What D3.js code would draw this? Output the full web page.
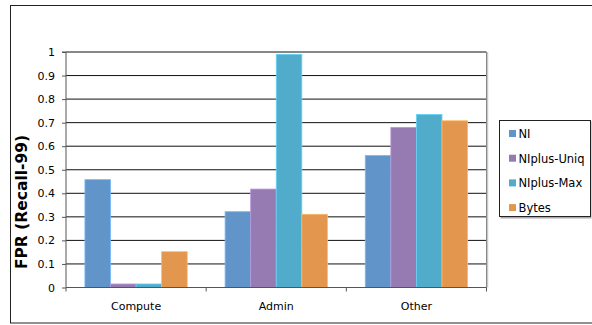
<!DOCTYPE html>
<html>
<head>
<meta charset="utf-8">
<script src="https://cdn.jsdelivr.net/npm/d3@7"></script>
<style>
  html, body { margin: 0; padding: 0; background: #fff; }
  svg { display: block; font-family: "DejaVu Sans", Verdana, sans-serif; }
</style>
</head>
<body>
<svg id="chart" width="592" height="325"></svg>
<script>
// Workload categories and the FPR (at 99% recall) for each detector
const categories = ["Compute", "Admin", "Other"];
const seriesNames = ["NI", "NIplus-Uniq", "NIplus-Max", "Bytes"];
const seriesColors = ["#6195c9", "#957bb2", "#51abcb", "#e2964e"];
const valuesNI = [0.458, 0.322, 0.561];
const valuesUniq = [0.015, 0.418, 0.680];
const valuesMax = [0.015, 0.990, 0.735];
const valuesBytes = [0.152, 0.311, 0.708];
const yTicks = [0, 0.1, 0.2, 0.3, 0.4, 0.5, 0.6, 0.7, 0.8, 0.9, 1];
const yTickLabels = ["0", "0.1", "0.2", "0.3", "0.4", "0.5", "0.6", "0.7", "0.8", "0.9", "1"];
const yTitle = "FPR (Recall-99)";

const seriesValues = [valuesNI, valuesUniq, valuesMax, valuesBytes];
const rows = categories.map((c, i) => ({
  category: c,
  values: seriesNames.map((s, j) => ({ series: s, value: seriesValues[j][i], color: seriesColors[j] }))
}));

const svg = d3.select("#chart");
const plot = { left: 66, right: 486.5, top: 52, bottom: 287.5 };

// Outer chart frame
svg.append("rect")
  .attr("x", 10.5).attr("y", 5.5)
  .attr("width", 600).attr("height", 317.5)
  .attr("fill", "#fff").attr("stroke", "#222").attr("stroke-width", 1);

const x0 = d3.scaleBand()
  .domain(categories)
  .range([plot.left, plot.right])
  .paddingInner(0.27)
  .paddingOuter(0.135);

const x1 = d3.scaleBand()
  .domain(seriesNames)
  .range([0, x0.bandwidth()]);

const y = d3.scaleLinear().domain([0, 1]).range([plot.bottom, plot.top]);

// Horizontal gridlines
svg.append("g")
  .selectAll("line")
  .data(yTicks.slice(1))
  .join("line")
  .attr("x1", plot.left).attr("x2", plot.right)
  .attr("y1", d => y(d)).attr("y2", d => y(d))
  .attr("stroke", "#111").attr("stroke-width", 1);

// Plot area right edge (with soft shadow)
svg.append("line")
  .attr("x1", plot.right + 1).attr("x2", plot.right + 1)
  .attr("y1", plot.top).attr("y2", plot.bottom)
  .attr("stroke", "#c8c8c8").attr("stroke-width", 1.5);
svg.append("line")
  .attr("x1", plot.right).attr("x2", plot.right)
  .attr("y1", plot.top).attr("y2", plot.bottom)
  .attr("stroke", "#888").attr("stroke-width", 1);

// Bars
const groups = svg.append("g")
  .selectAll("g")
  .data(rows)
  .join("g")
  .attr("transform", d => `translate(${x0(d.category)},0)`);

groups.selectAll("rect")
  .data(d => d.values)
  .join("rect")
  .attr("x", d => x1(d.series))
  .attr("y", d => y(d.value))
  .attr("width", x1.bandwidth())
  .attr("height", d => y(0) - y(d.value))
  .attr("fill", d => d.color)
  .attr("stroke", d => d3.color(d.color).brighter(0.6))
  .attr("stroke-width", 0.8);

// Y axis
const yAxis = d3.axisLeft(y)
  .tickValues(yTicks)
  .tickFormat((d, i) => yTickLabels[i])
  .tickSize(4)
  .tickPadding(7);

const gy = svg.append("g")
  .attr("transform", `translate(${plot.left},0)`)
  .call(yAxis);
gy.select(".domain").attr("stroke", "#555").attr("d", `M-4,${plot.top}H0V${plot.bottom}`);
gy.selectAll(".tick line").attr("stroke", "#555");
gy.selectAll(".tick text")
  .attr("fill", "#000")
  .style("font-size", "11px")
  .style("font-family", "'DejaVu Sans', Verdana, sans-serif");

// X axis with ticks between categories
const gx = svg.append("g").attr("transform", `translate(0,${plot.bottom})`);
gx.append("line")
  .attr("x1", plot.left).attr("x2", plot.right)
  .attr("stroke", "#555").attr("stroke-width", 1);
const boundaries = categories.map(c => x0(c) - x0.step() * x0.paddingInner() / 2);
boundaries.push(plot.right);
gx.selectAll("line.tick")
  .data(boundaries)
  .join("line")
  .attr("class", "tick")
  .attr("x1", d => d).attr("x2", d => d)
  .attr("y1", 0).attr("y2", 4)
  .attr("stroke", "#555");
gx.selectAll("text")
  .data(categories)
  .join("text")
  .attr("x", d => x0(d) + x0.bandwidth() / 2)
  .attr("y", 22)
  .attr("text-anchor", "middle")
  .style("font-size", "11px")
  .attr("fill", "#000")
  .text(d => d);

// Y axis title
svg.append("text")
  .attr("transform", `translate(22,202) rotate(-90)`)
  .attr("text-anchor", "middle")
  .attr("dominant-baseline", "middle")
  .style("font-size", "15.5px")
  .style("font-weight", "bold")
  .attr("fill", "#000")
  .text(yTitle);

// Legend
const legend = svg.append("g").attr("transform", "translate(499,120)");
legend.append("rect")
  .attr("x", 1.5).attr("y", 1.5).attr("width", 91).attr("height", 97)
  .attr("fill", "#aaa");
legend.append("rect")
  .attr("x", 0.5).attr("y", 0.5).attr("width", 91).attr("height", 96)
  .attr("fill", "#fff").attr("stroke", "#222").attr("stroke-width", 1);
const items = legend.selectAll("g.item")
  .data(seriesNames)
  .join("g")
  .attr("class", "item")
  .attr("transform", (d, i) => `translate(10,${13.5 + i * 24.7})`);
items.append("rect")
  .attr("x", 0).attr("y", -3.5).attr("width", 7).attr("height", 7)
  .attr("fill", (d, i) => seriesColors[i]);
items.append("text")
  .attr("x", 9.5).attr("y", 0.5)
  .attr("dominant-baseline", "central")
  .style("font-size", "11.5px")
  .attr("fill", "#000")
  .text(d => d);
</script>
</body>
</html>
